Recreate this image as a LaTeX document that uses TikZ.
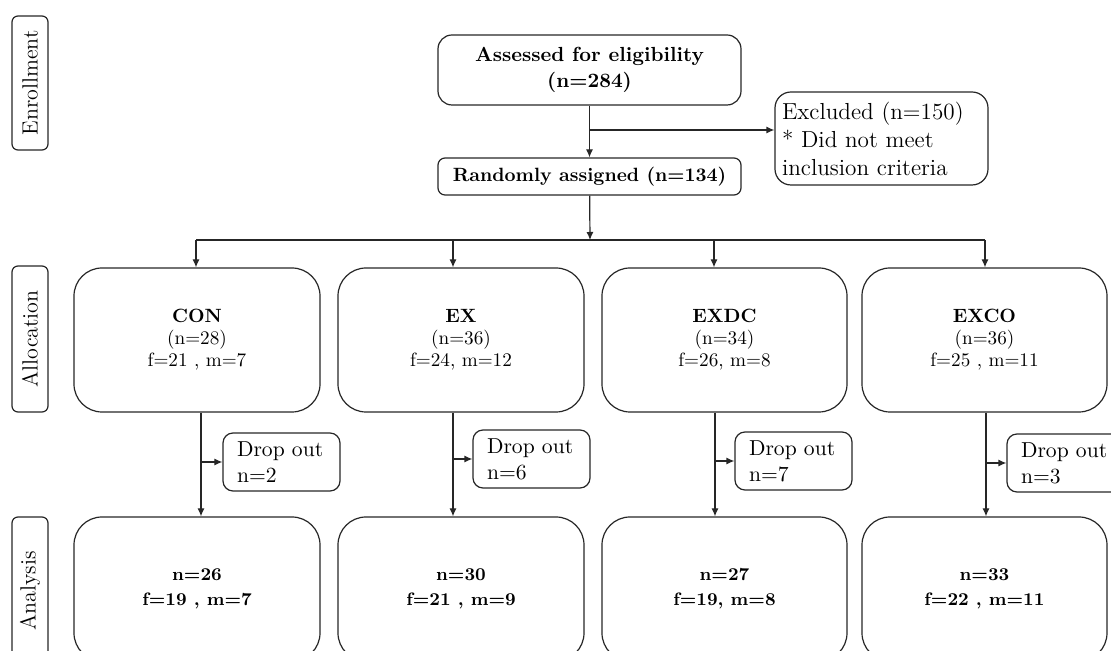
\documentclass[tikz,border=0pt]{standalone}
\usetikzlibrary{arrows.meta}
\tikzset{
  box/.style={draw=black!85,line width=0.6bp,rectangle,align=center,inner sep=0pt},
  stage/.style={box,rounded corners=3bp,rotate=90,minimum height=18bp,font=\fontsize{11bp}{13bp}\selectfont},
  grp/.style={box,rounded corners=14bp,minimum height=72bp,font=\fontsize{9.6bp}{11bp}\selectfont},
  res/.style={grp,font=\bfseries\fontsize{9bp}{12.5bp}\selectfont},
  dropbox/.style={box,rounded corners=5bp,align=left,text width=44.5bp,minimum width=58.5bp,minimum height=29bp,font=\fontsize{10.8bp}{13bp}\selectfont},
  link/.style={draw=black!85,line width=0.6bp},
}
\begin{document}
\begin{tikzpicture}[x=0.5bp,y=0.5bp,>={Latex[length=4bp,width=3.5bp]},line join=bevel,]
\useasboundingbox (0,0) rectangle (1111,651);
\clip (0,0) rectangle (1111,651);
%%
\node (enrol) at (30,568) [stage,minimum width=67bp] {Enrollment};
  \node (alloc) at (30,312) [stage,minimum width=73bp] {Allocation};
  \node (anal) at (30,60) [stage,minimum width=74bp] {Analysis};
  \node (assess) at (589.5,581) [box,rounded corners=7bp,minimum width=151.5bp,minimum height=35bp,font=\bfseries\fontsize{10.2bp}{13bp}\selectfont] {Assessed for eligibility\\(n=284)};
  \node (rand) at (589.5,474.5) [box,rounded corners=3.5bp,minimum width=151.5bp,minimum height=18.5bp,font=\bfseries\fontsize{9.6bp}{12bp}\selectfont] {Randomly assigned (n=134)};
  \node (excl) at (881.5,512.5) [box,rounded corners=8bp,align=left,text width=99.5bp,minimum width=106.5bp,minimum height=46.5bp,font=\fontsize{11.6bp}{14bp}\selectfont] {Excluded (n=150)\\{*} Did not meet\\inclusion criteria};
  \coordinate (branch) at (590,521);
  \coordinate (bus) at (590,411);
  \coordinate (b_con) at (196,411);
  \coordinate (b_ex) at (453,411);
  \coordinate (b_exdc) at (714,411);
  \coordinate (b_exco) at (985,411);
  \node (g_con) at (197,311) [grp,minimum width=123bp] {\textbf{CON}\\(n=28)\\f=21 , m=7};
  \node (g_ex) at (461,311) [grp,minimum width=123bp] {\textbf{EX}\\(n=36)\\f=24, m=12};
  \node (g_exdc) at (724.5,311) [grp,minimum width=122.5bp] {\textbf{EXDC}\\(n=34)\\f=26, m=8};
  \node (g_exco) at (984.5,311) [grp,minimum width=122.5bp] {\textbf{EXCO}\\(n=36)\\f=25 , m=11};
  \coordinate (v_con) at (201,0);
  \coordinate (v_ex) at (453,0);
  \coordinate (v_exdc) at (715,0);
  \coordinate (v_exco) at (986,0);
  \node (d_con) at (281.5,189) [dropbox] {Drop out\\n=2};
  \node (d_ex) at (531.5,192) [dropbox] {Drop out\\n=6};
  \node (d_exdc) at (793.5,190) [dropbox] {Drop out\\n=7};
  \node (d_exco) at (1065.5,188) [dropbox] {Drop out\\n=3};
  \node (a_con) at (197,62) [res,minimum width=123bp] {n=26\\f=19 , m=7};
  \node (a_ex) at (461,62) [res,minimum width=123bp] {n=30\\f=21 , m=9};
  \node (a_exdc) at (724.5,62) [res,minimum width=122.5bp] {n=27\\f=19, m=8};
  \node (a_exco) at (984.5,62) [res,minimum width=122.5bp] {n=33\\f=22 , m=11};
  \draw [->,link] (assess) -- (rand);
  \draw [->,link] (branch) -- (branch -| excl.west);
  \draw [->,link] (rand) -- (bus);
  \draw [link] (b_con) -- (b_exco);
  \draw [->,link] (b_con) -- (b_con |- g_con.north);
  \draw [->,link] (b_ex) -- (b_ex |- g_ex.north);
  \draw [->,link] (b_exdc) -- (b_exdc |- g_exdc.north);
  \draw [->,link] (b_exco) -- (b_exco |- g_exco.north);
  \draw [->,link] (v_con |- g_con.south) -- (v_con |- a_con.north);
  \draw [->,link] (v_ex |- g_ex.south) -- (v_ex |- a_ex.north);
  \draw [->,link] (v_exdc |- g_exdc.south) -- (v_exdc |- a_exdc.north);
  \draw [->,link] (v_exco |- g_exco.south) -- (v_exco |- a_exco.north);
  \draw [->,link] (v_con |- d_con.west) -- (d_con.west);
  \draw [->,link] (v_ex |- d_ex.west) -- (d_ex.west);
  \draw [->,link] (v_exdc |- d_exdc.west) -- (d_exdc.west);
  \draw [->,link] (v_exco |- d_exco.west) -- (d_exco.west);
%
\end{tikzpicture}
\end{document}
